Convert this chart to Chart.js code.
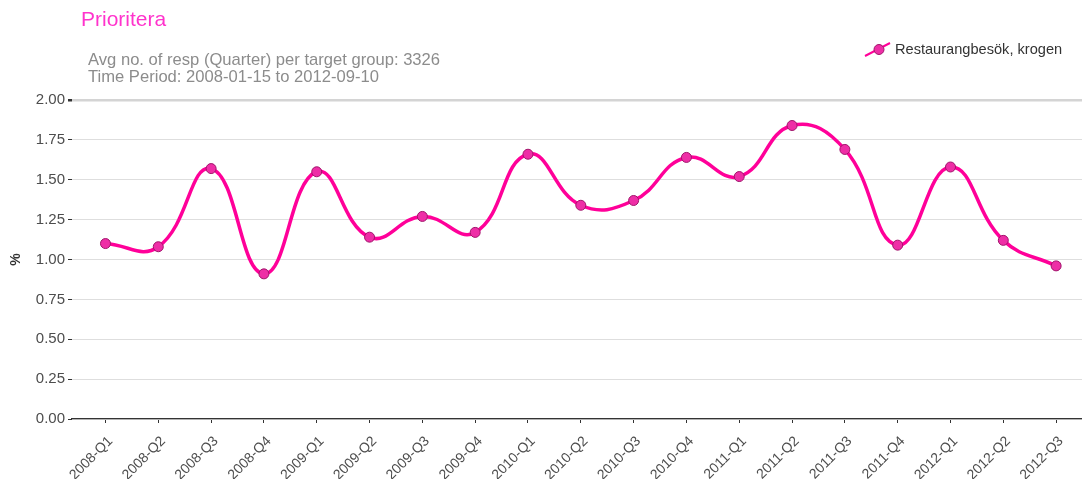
<!DOCTYPE html>
<html>
<head>
<meta charset="utf-8">
<script src="https://cdn.jsdelivr.net/npm/chart.js@4"></script>
<style>
  body { margin: 0; background: #fff; }
  #chart { display: block; }
</style>
</head>
<body>
<canvas id="chart" width="1082" height="479"></canvas>
<script>
var quarters = ['2008-Q1', '2008-Q2', '2008-Q3', '2008-Q4', '2009-Q1', '2009-Q2', '2009-Q3', '2009-Q4',
  '2010-Q1', '2010-Q2', '2010-Q3', '2010-Q4', '2011-Q1', '2011-Q2', '2011-Q3', '2011-Q4',
  '2012-Q1', '2012-Q2', '2012-Q3'];
var values = [1.10, 1.08, 1.57, 0.91, 1.55, 1.14, 1.27, 1.17, 1.66, 1.34, 1.37, 1.64, 1.52, 1.84, 1.69, 1.09, 1.58, 1.12, 0.96];
var yTicks = [0, 0.25, 0.5, 0.75, 1, 1.25, 1.5, 1.75, 2];
var seriesName = 'Restaurangbesök, krogen';
var titleText = 'Prioritera';
var subtitleLines = ['Avg no. of resp (Quarter) per target group: 3326', 'Time Period: 2008-01-15 to 2012-09-10'];

var FONT = '"Liberation Sans", Arial, Helvetica, sans-serif';
var lineColor = '#ff0099';
var pointFill = '#ee2ea6';
var pointBorder = '#a0146a';

// title, subtitle and legend drawn by hand so they sit where the original has them
var headerPlugin = {
  id: 'header',
  afterDraw: function (chart) {
    var c = chart.ctx;
    c.save();
    c.textAlign = 'left';
    c.textBaseline = 'middle';
    c.fillStyle = '#ff33cc';
    c.font = '21px ' + FONT;
    c.fillText(titleText, 81, 20);
    c.fillStyle = '#8c8c8c';
    c.font = '16.6px ' + FONT;
    c.fillText(subtitleLines[0], 88, 60);
    c.fillText(subtitleLines[1], 88, 77);

    // legend marker
    c.strokeStyle = lineColor;
    c.lineWidth = 2;
    c.beginPath();
    c.moveTo(865, 56);
    c.lineTo(890, 43);
    c.stroke();
    c.beginPath();
    c.arc(879, 49.5, 5, 0, Math.PI * 2);
    c.fillStyle = pointFill;
    c.fill();
    c.strokeStyle = pointBorder;
    c.lineWidth = 1;
    c.stroke();
    c.fillStyle = '#333333';
    c.font = '14.6px ' + FONT;
    c.fillText(seriesName, 895, 50);
    c.restore();
  }
};

var ctx = document.getElementById('chart').getContext('2d');
var chart = new Chart(ctx, {
  type: 'line',
  data: {
    datasets: [{
      label: seriesName,
      data: values.map(function (v, i) { return { x: i, y: v }; }),
      borderColor: lineColor,
      borderWidth: 3.5,
      backgroundColor: pointFill,
      pointBackgroundColor: pointFill,
      pointBorderColor: pointBorder,
      pointBorderWidth: 1,
      pointRadius: 5,
      fill: false,
      tension: 0.45
    }]
  },
  options: {
    responsive: false,
    animation: false,
    devicePixelRatio: 1,
    layout: { autoPadding: false, padding: { top: 100, right: 0, left: 0, bottom: 0 } },
    scales: {
      x: {
        type: 'linear',
        min: -0.634,
        max: 18.49,
        afterBuildTicks: function (scale) {
          scale.ticks = quarters.map(function (q, i) { return { value: i }; });
        },
        afterFit: function (scale) {
          scale.height = 60;
          scale.paddingRight = 0;
        },
        ticks: {
          autoSkip: false,
          minRotation: 45,
          maxRotation: 45,
          padding: 10,
          labelOffset: 5,
          color: '#4d4d4d',
          font: { family: FONT, size: 14 },
          callback: function (v) { return quarters[v]; }
        },
        grid: {
          drawOnChartArea: false,
          drawTicks: true,
          tickLength: 4,
          tickColor: '#333333'
        },
        border: { display: true, color: '#333333', width: 1.2 }
      },
      y: {
        min: 0,
        max: 2,
        afterBuildTicks: function (scale) {
          scale.ticks = yTicks.map(function (t) { return { value: t }; });
        },
        afterFit: function (scale) { scale.width = 72; },
        ticks: {
          padding: 3,
          color: '#4d4d4d',
          font: { family: FONT, size: 15 },
          callback: function (v) { return v.toFixed(2); }
        },
        grid: {
          color: function (c) { return c.tick && c.tick.value === 2 ? '#d4d4d4' : '#dedede'; },
          lineWidth: function (c) { return c.tick && c.tick.value === 2 ? 2.5 : 1; },
          tickLength: 4,
          tickColor: '#333333'
        },
        border: { display: false },
        title: {
          display: true,
          text: '%',
          color: '#333333',
          font: { family: FONT, size: 14, weight: 'bold' },
          padding: { top: 8, bottom: 0 }
        }
      }
    },
    plugins: {
      legend: { display: false },
      tooltip: { enabled: false }
    }
  },
  plugins: [headerPlugin]
});
</script>
</body>
</html>
